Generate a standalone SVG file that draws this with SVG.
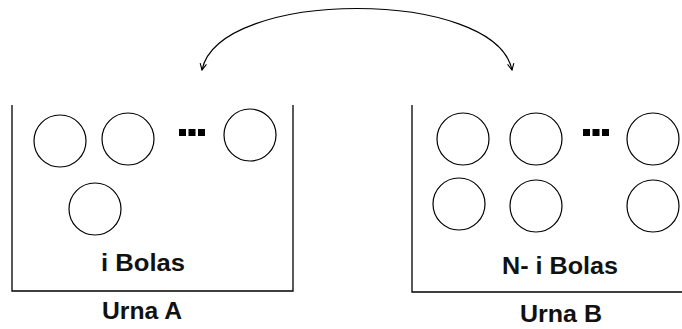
<svg xmlns="http://www.w3.org/2000/svg" width="682" height="329" viewBox="0 0 682 329">
<style>
.wall{fill:none;stroke:#000;stroke-width:1.3}
.ball{fill:#fff;stroke:#000;stroke-width:1.2}
.dot{fill:#000}
.lbl{font-family:"Liberation Sans",Arial,sans-serif;font-weight:bold;font-size:23px;fill:#111;text-anchor:middle}
.conn{fill:none;stroke:#000;stroke-width:1.2}
</style>
<defs>
<marker id="arr" viewBox="0 0 10 10" refX="9" refY="5" markerWidth="8" markerHeight="8" markerUnits="userSpaceOnUse" orient="auto-start-reverse">
<path d="M1,1 L9,5 L1,9" fill="none" stroke="#000" stroke-width="1.4"/>
</marker>
</defs>
<rect width="682" height="329" fill="#fff"/>
<g id="connectors">
<path class="conn" d="M202,70 C219,-12 495,-12 512,70" marker-start="url(#arr)" marker-end="url(#arr)"/>
</g>
<g id="urnaA">
<path class="wall" d="M12,105 V291 H293 V105"/>
<circle class="ball" cx="60" cy="141" r="26"/>
<circle class="ball" cx="128" cy="139" r="26"/>
<circle class="ball" cx="250" cy="135" r="26"/>
<circle class="ball" cx="95" cy="209" r="26"/>
<rect class="dot" x="179" y="129" width="7" height="7"/>
<rect class="dot" x="188.5" y="129" width="7" height="7"/>
<rect class="dot" x="198" y="129" width="7" height="7"/>
<text class="lbl" x="143" y="271" textLength="84" lengthAdjust="spacingAndGlyphs">i Bolas</text>
<text class="lbl" x="142" y="319" textLength="80" lengthAdjust="spacingAndGlyphs">Urna A</text>
</g>
<g id="urnaB">
<path class="wall" d="M412,105 V292 H682"/>
<circle class="ball" cx="463" cy="139" r="26"/>
<circle class="ball" cx="536" cy="139" r="26"/>
<circle class="ball" cx="653" cy="139" r="26"/>
<circle class="ball" cx="459" cy="204" r="26"/>
<circle class="ball" cx="536" cy="206" r="26"/>
<circle class="ball" cx="653" cy="206" r="26"/>
<rect class="dot" x="583" y="129" width="7" height="7"/>
<rect class="dot" x="592.5" y="129" width="7" height="7"/>
<rect class="dot" x="602" y="129" width="7" height="7"/>
<text class="lbl" x="560" y="274" textLength="116" lengthAdjust="spacingAndGlyphs">N- i Bolas</text>
<text class="lbl" x="561" y="322" textLength="82" lengthAdjust="spacingAndGlyphs">Urna B</text>
</g>
</svg>
